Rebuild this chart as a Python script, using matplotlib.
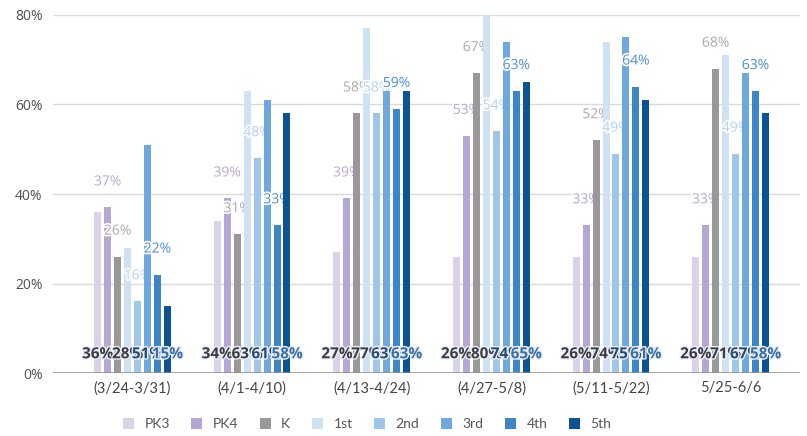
import matplotlib
matplotlib.use("Agg")
import matplotlib.pyplot as plt
import matplotlib.patheffects as pe
import numpy as np

# weekly share per grade band
periods = ["(3/24-3/31)", "(4/1-4/10)", "(4/13-4/24)", "(4/27-5/8)", "(5/11-5/22)", "5/25-6/6"]
grades = ["PK3", "PK4", "K", "1st", "2nd", "3rd", "4th", "5th"]
pk3 = [36, 34, 27, 26, 26, 26]
pk4 = [37, 39, 39, 53, 33, 33]
kind = [26, 31, 58, 67, 52, 68]
first = [28, 63, 77, 80, 74, 71]
second = [16, 48, 58, 54, 49, 49]
third = [51, 61, 63, 74, 75, 67]
fourth = [22, 33, 59, 63, 64, 63]
fifth = [15, 58, 63, 65, 61, 58]
series = [pk3, pk4, kind, first, second, third, fourth, fifth]

colors = ["#d9d2e9", "#b4a7d6", "#999999", "#cfe2f3",
          "#9fc5e8", "#6fa8dc", "#3d85c6", "#0b5394"]
# labels sit either above the bar (light) or at its base (dark)
top_label_colors = {1: "#b4a7d6", 2: "#a9a9a9", 4: "#b3d0ec", 6: "#4a8fd0"}
base_label_colors = {0: "#3b3a45", 3: "#3b3d40", 5: "#274a70", 7: "#3a6ea5"}

fig = plt.figure(figsize=(8.07, 4.36), dpi=100)
ax = fig.add_axes([53 / 807, 63 / 436, 747 / 807, 358 / 436])

x = np.arange(len(periods))
step = 0.0832
width = 0.0585
halo = [pe.withStroke(linewidth=2.5, foreground="white")]

for i, (name, vals) in enumerate(zip(grades, series)):
    xs = x + (i - 3.5) * step
    ax.bar(xs, vals, width, color=colors[i], label=name, zorder=2 + i)
    for xi, v in zip(xs, vals):
        if i in top_label_colors:
            ax.annotate(f"{v}%", (xi, v), xytext=(0, 18.4), textcoords="offset points",
                        ha="center", va="center", fontsize=10, family="Open Sans",
                        color=top_label_colors[i], path_effects=halo,
                        zorder=2.5 + i, annotation_clip=False)
        else:
            ax.annotate(f"{v}%", (xi, 0), xytext=(0, 13.5), textcoords="offset points",
                        ha="center", va="center", fontsize=11, family="Open Sans",
                        fontweight="bold", color=base_label_colors[i],
                        path_effects=[pe.withStroke(linewidth=2, foreground="#e8eef6")],
                        zorder=20 + i)

ax.set_ylim(0, 80)
ax.set_xlim(-0.665, 5.58)
ax.set_yticks([0, 20, 40, 60, 80])
ax.set_yticklabels([f"{t}%" for t in [0, 20, 40, 60, 80]])
ax.set_xticks(x)
ax.set_xticklabels(periods)
ax.tick_params(axis="both", length=0)
ax.tick_params(axis="y", pad=7.5, labelsize=10, labelcolor="#505050")
ax.tick_params(axis="x", pad=6, labelsize=10.5, labelcolor="#444444")
for lab in ax.get_xticklabels():
    lab.set_family("Lato")
for lab in ax.get_yticklabels():
    lab.set_family("Open Sans")

ax.grid(axis="y", color="#d9d9d9", lw=1, zorder=0)
ax.set_axisbelow(True)
for s in ax.spines.values():
    s.set_visible(False)
ax.axhline(0, color="#8c8c8c", lw=1.8, zorder=30)

leg = fig.legend(loc="center", bbox_to_anchor=(367 / 807, 12 / 436), ncol=8,
                 frameon=False, handlelength=0.8, handleheight=0.8,
                 handletextpad=0.75, columnspacing=1.55,
                 prop={"family": "Lato", "size": 10})
for t in leg.get_texts():
    t.set_color("#555555")

fig.savefig("out.png", dpi=100)
